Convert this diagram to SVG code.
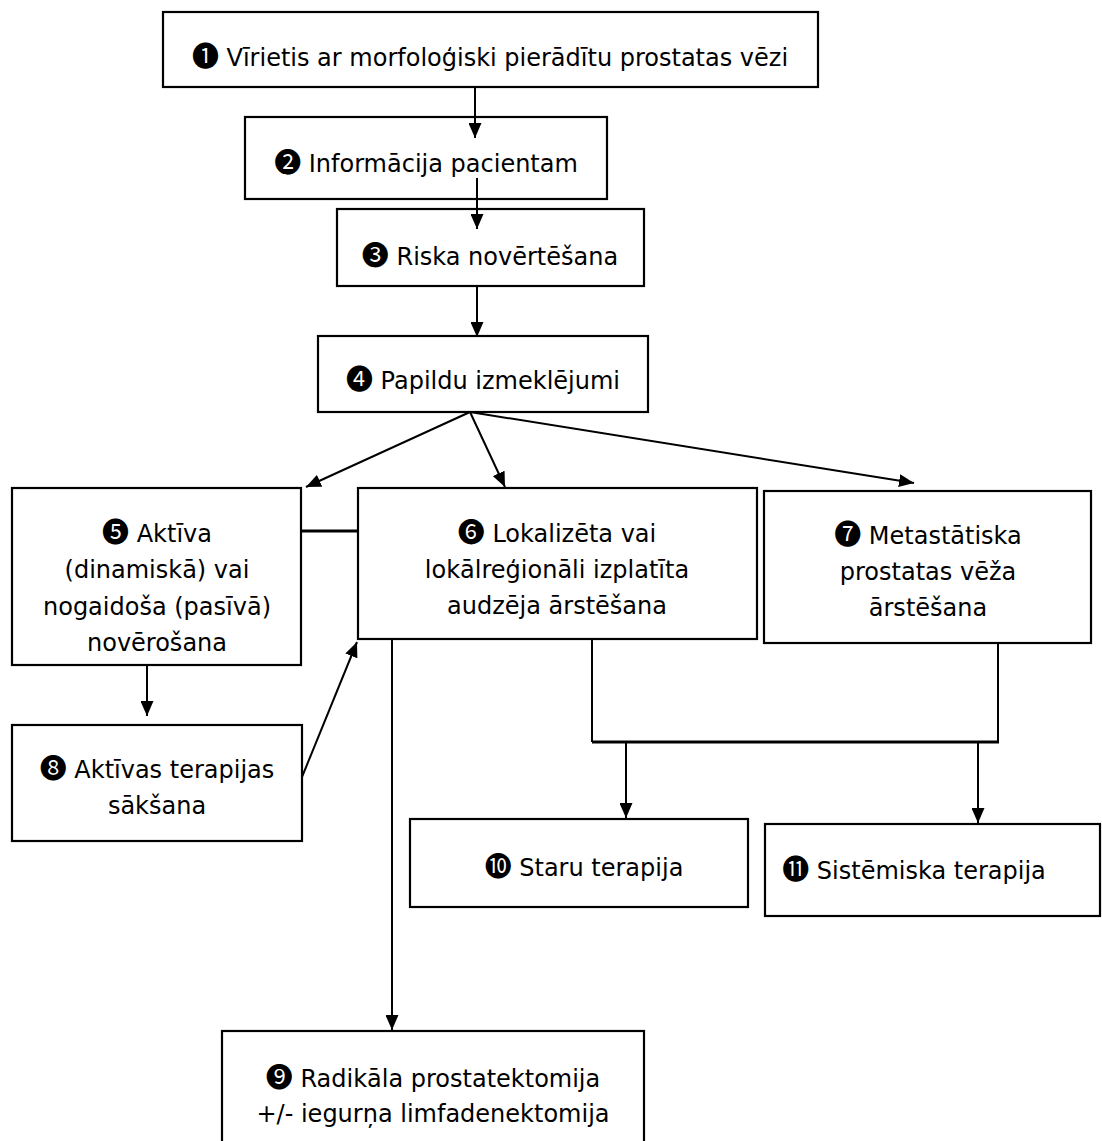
<svg xmlns="http://www.w3.org/2000/svg" width="1102" height="1141" viewBox="0 0 1102 1141">
<style>
  .box { fill: #ffffff; stroke: #000000; stroke-width: 2.2; }
  .t { font-family: "DejaVu Sans", "Liberation Sans", sans-serif; font-size: 24px; fill: #000000; text-anchor: middle; }
  .n { font-family: "Noto Sans CJK JP", "DejaVu Sans", sans-serif; font-size: 27px; }
  .c { fill: none; stroke: #000000; stroke-width: 2; }
  .thick { fill: none; stroke: #000000; stroke-width: 3.2; }
</style>
<defs>
  <marker id="ah" markerUnits="userSpaceOnUse" markerWidth="15" markerHeight="13" refX="15" refY="6.5" orient="auto">
    <path d="M0,0 L15,6.5 L0,13 z" fill="#000000"/>
  </marker>
</defs>
<rect width="1102" height="1141" fill="#ffffff"/>

<g id="node1">
  <rect class="box" x="163" y="12" width="655" height="75"/>
  <text class="t" x="490" y="66"><tspan class="n">❶</tspan> Vīrietis ar morfoloģiski pierādītu prostatas vēzi</text>
</g>
<g id="node2">
  <rect class="box" x="245" y="117" width="362" height="82"/>
  <text class="t" x="426" y="172"><tspan class="n">❷</tspan> Informācija pacientam</text>
</g>
<g id="node3">
  <rect class="box" x="337" y="209" width="307" height="77"/>
  <text class="t" x="490" y="265"><tspan class="n">❸</tspan> Riska novērtēšana</text>
</g>
<g id="node4">
  <rect class="box" x="318" y="336" width="330" height="76"/>
  <text class="t" x="483" y="389"><tspan class="n">❹</tspan> Papildu izmeklējumi</text>
</g>
<g id="node5">
  <rect class="box" x="12" y="488" width="289" height="177"/>
  <text class="t" x="157" y="542"><tspan class="n">❺</tspan> Aktīva</text>
  <text class="t" x="157" y="578">(dinamiskā) vai</text>
  <text class="t" x="157" y="615">nogaidoša (pasīvā)</text>
  <text class="t" x="157" y="651">novērošana</text>
</g>
<g id="node6">
  <rect class="box" x="358" y="488" width="399" height="151"/>
  <text class="t" x="557" y="542"><tspan class="n">❻</tspan> Lokalizēta vai</text>
  <text class="t" x="557" y="578">lokālreģionāli izplatīta</text>
  <text class="t" x="557" y="614">audzēja ārstēšana</text>
</g>
<g id="node7">
  <rect class="box" x="764" y="491" width="327" height="152"/>
  <text class="t" x="928" y="544"><tspan class="n">❼</tspan> Metastātiska</text>
  <text class="t" x="928" y="580">prostatas vēža</text>
  <text class="t" x="928" y="616">ārstēšana</text>
</g>
<g id="node8">
  <rect class="box" x="12" y="725" width="290" height="116"/>
  <text class="t" x="157" y="778"><tspan class="n">❽</tspan> Aktīvas terapijas</text>
  <text class="t" x="157" y="814">sākšana</text>
</g>
<g id="node10">
  <rect class="box" x="410" y="819" width="338" height="88"/>
  <text class="t" x="584" y="876"><tspan class="n">❿</tspan> Staru terapija</text>
</g>
<g id="node11">
  <rect class="box" x="765" y="824" width="335" height="92"/>
  <text class="t" x="914" y="879"><tspan class="n">⓫</tspan> Sistēmiska terapija</text>
</g>
<g id="node9">
  <rect class="box" x="222" y="1031" width="422" height="130"/>
  <text class="t" x="433" y="1087"><tspan class="n">❾</tspan> Radikāla prostatektomija</text>
  <text class="t" x="433" y="1122">+/- iegurņa limfadenektomija</text>
</g>

<g id="connectors">
  <line class="c" x1="475" y1="87" x2="475" y2="138" marker-end="url(#ah)"/>
  <line class="c" x1="477" y1="178" x2="477" y2="229" marker-end="url(#ah)"/>
  <line class="c" x1="477" y1="286" x2="477" y2="337" marker-end="url(#ah)"/>
  <line class="c" x1="470" y1="412" x2="306" y2="487" marker-end="url(#ah)"/>
  <line class="c" x1="470" y1="412" x2="505" y2="487" marker-end="url(#ah)"/>
  <line class="c" x1="470" y1="412" x2="914" y2="483" marker-end="url(#ah)"/>
  <line class="thick" x1="301" y1="531" x2="358" y2="531"/>
  <line class="c" x1="147" y1="665" x2="147" y2="716" marker-end="url(#ah)"/>
  <line class="c" x1="302" y1="777" x2="357" y2="642" marker-end="url(#ah)"/>
  <line class="c" x1="392" y1="639" x2="392" y2="1030" marker-end="url(#ah)"/>
  <line class="c" x1="592" y1="639" x2="592" y2="742"/>
  <line class="c" x1="998" y1="643" x2="998" y2="742"/>
  <line class="thick" x1="592" y1="742" x2="999" y2="742"/>
  <line class="c" x1="626" y1="742" x2="626" y2="818" marker-end="url(#ah)"/>
  <line class="c" x1="978" y1="742" x2="978" y2="823" marker-end="url(#ah)"/>
</g>
</svg>
